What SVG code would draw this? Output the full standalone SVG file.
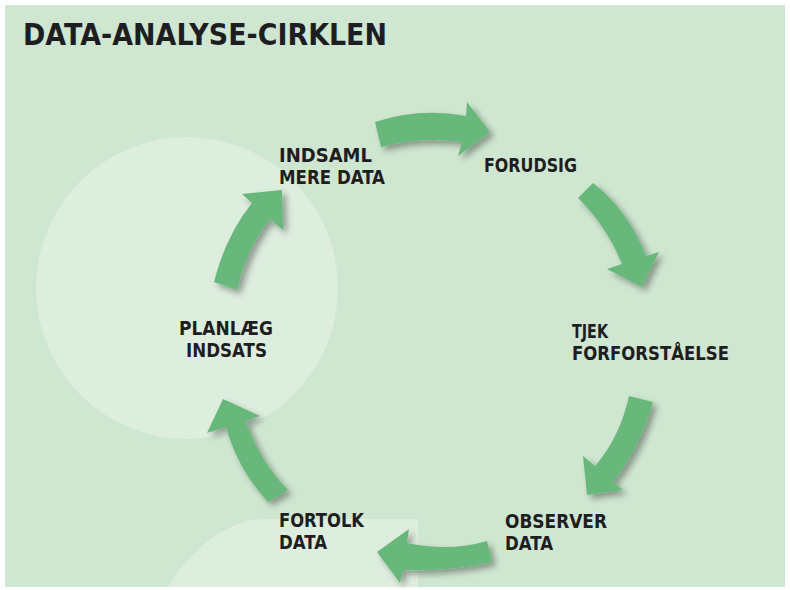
<svg xmlns="http://www.w3.org/2000/svg" width="790" height="590" viewBox="0 0 790 590">
<style>
.lbl{font-family:"DejaVu Sans Condensed","DejaVu Sans",sans-serif;font-weight:bold;font-size:19px;fill:#1e1e22;}
.title{font-family:"DejaVu Sans","Liberation Sans",sans-serif;font-weight:bold;font-size:30px;fill:#1e1e22;}
.arrow{fill:#67b87b;filter:url(#sh);}
</style>
<defs>
<filter id="sh" x="-30%" y="-30%" width="160%" height="160%">
<feDropShadow dx="4" dy="4" stdDeviation="3" flood-color="#000" flood-opacity="0.35"/>
</filter>
</defs>
<rect x="0" y="0" width="790" height="590" fill="#ffffff"/>
<rect x="5" y="5" width="780" height="582" fill="#cfe6d0"/>
<circle cx="187" cy="288" r="151" fill="#ddedde"/>
<path d="M418,519 L262,519 C225,521 188,552 168,587 L418,587 Z" fill="#ddedde"/>
<text class="title" x="23" y="45" textLength="364" lengthAdjust="spacingAndGlyphs">DATA-ANALYSE-CIRKLEN</text>
<g id="connectors">
<path class="arrow" d="M375,122 Q420,107 466,116 L467,102 L490,132 L458,156 L462,142 Q420,136 381,147 Z"/>
<path class="arrow" d="M578,198 L593,183 Q628,210 646,256 L659,252 L642,287 L607,269 L622,264 Q606,225 578,198 Z"/>
<path class="arrow" d="M629,396 L653,402 Q640,448 613,482 L623,490 L587,495 L583,456 L595,466 Q620,437 629,396 Z"/>
<path class="arrow" d="M487,541 L492,562 Q448,572 403,570 L400,583 L377,552 L409,529 L407,543 Q450,552 487,541 Z"/>
<path class="arrow" d="M268,502 Q238,470 226,427 L207,433 L223,399 L260,416 L246,421 Q260,462 288,490 Z"/>
<path class="arrow" d="M214,282 Q226,235 252,203 L242,194 L282,190 L283,230 L270,219 Q247,248 237,290 Z"/>
</g>
<g id="node-indsaml">
<text class="lbl" x="279" y="162" textLength="93" lengthAdjust="spacingAndGlyphs">INDSAML</text>
<text class="lbl" x="279" y="184" textLength="106" lengthAdjust="spacingAndGlyphs">MERE DATA</text>
</g>
<g id="node-forudsig">
<text class="lbl" x="484" y="172" textLength="93" lengthAdjust="spacingAndGlyphs">FORUDSIG</text>
</g>
<g id="node-tjek">
<text class="lbl" x="572" y="338" textLength="36" lengthAdjust="spacingAndGlyphs">TJEK</text>
<text class="lbl" x="572" y="360" textLength="157" lengthAdjust="spacingAndGlyphs">FORFORSTÅELSE</text>
</g>
<g id="node-observer">
<text class="lbl" x="505" y="528" textLength="102" lengthAdjust="spacingAndGlyphs">OBSERVER</text>
<text class="lbl" x="505" y="550" textLength="48" lengthAdjust="spacingAndGlyphs">DATA</text>
</g>
<g id="node-fortolk">
<text class="lbl" x="279" y="527" textLength="85" lengthAdjust="spacingAndGlyphs">FORTOLK</text>
<text class="lbl" x="279" y="549" textLength="48" lengthAdjust="spacingAndGlyphs">DATA</text>
</g>
<g id="node-planlaeg">
<text class="lbl" x="179" y="335" textLength="94" lengthAdjust="spacingAndGlyphs">PLANLÆG</text>
<text class="lbl" x="186" y="357" textLength="81" lengthAdjust="spacingAndGlyphs">INDSATS</text>
</g>
</svg>
